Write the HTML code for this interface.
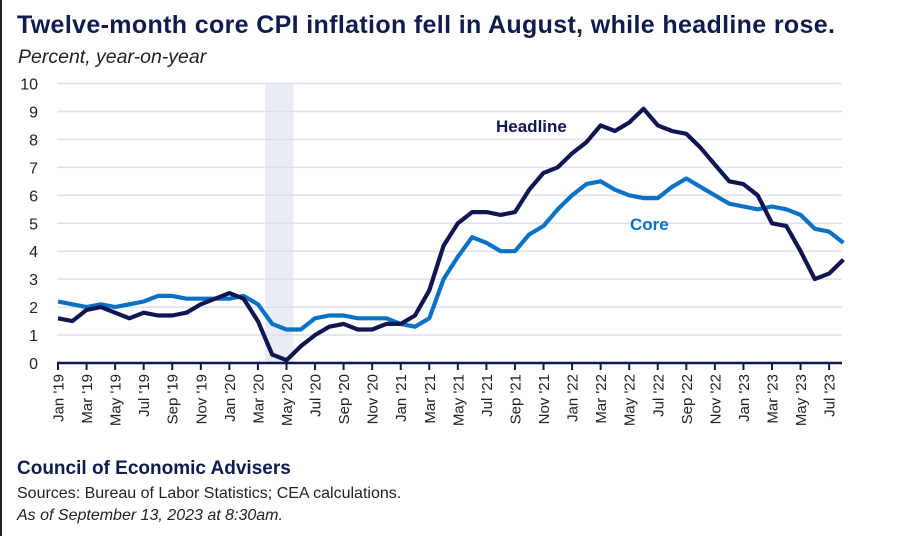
<!DOCTYPE html>
<html><head><meta charset="utf-8">
<style>
body{margin:0;background:#fff;}
#wrap{position:relative;width:909px;height:536px;overflow:hidden;background:#fff;font-family:"Liberation Sans",sans-serif;border-left:2px solid #222;box-sizing:border-box;}
.t{position:absolute;white-space:nowrap;color:#0f1c4d;}
</style></head>
<body>
<div id="wrap">
<div class="t" style="left:15px;top:11px;font-size:25px;font-weight:bold;letter-spacing:0.35px;">Twelve-month core CPI inflation fell in August, while headline rose.</div>
<div class="t" style="left:16px;top:46px;font-size:19.5px;font-style:italic;color:#222;">Percent, year-on-year</div>
<svg id="chart" width="909" height="460" style="position:absolute;left:-2px;top:0"></svg>
<div class="t" style="left:15px;top:458px;font-size:19px;font-weight:bold;color:#0f1c4d;">Council of Economic Advisers</div>
<div class="t" style="left:15px;top:485px;font-size:16px;color:#222;">Sources: Bureau of Labor Statistics; CEA calculations.</div>
<div class="t" style="left:15px;top:507px;font-size:16px;font-style:italic;color:#222;">As of September 13, 2023 at 8:30am.</div>
</div>
<script>
const months = ["Jan","Feb","Mar","Apr","May","Jun","Jul","Aug","Sep","Oct","Nov","Dec"];
const yTicks = [0,1,2,3,4,5,6,7,8,9,10];
const headline = [1.6,1.5,1.9,2.0,1.8,1.6,1.8,1.7,1.7,1.8,2.1,2.3,
 2.5,2.3,1.5,0.3,0.1,0.6,1.0,1.3,1.4,1.2,1.2,1.4,
 1.4,1.7,2.6,4.2,5.0,5.4,5.4,5.3,5.4,6.2,6.8,7.0,
 7.5,7.9,8.5,8.3,8.6,9.1,8.5,8.3,8.2,7.7,7.1,6.5,
 6.4,6.0,5.0,4.9,4.0,3.0,3.2,3.7];
const core = [2.2,2.1,2.0,2.1,2.0,2.1,2.2,2.4,2.4,2.3,2.3,2.3,
 2.3,2.4,2.1,1.4,1.2,1.2,1.6,1.7,1.7,1.6,1.6,1.6,
 1.4,1.3,1.6,3.0,3.8,4.5,4.3,4.0,4.0,4.6,4.9,5.5,
 6.0,6.4,6.5,6.2,6.0,5.9,5.9,6.3,6.6,6.3,6.0,5.7,
 5.6,5.5,5.6,5.5,5.3,4.8,4.7,4.3];
const shadeRange = [14.5, 16.5];
const startYear = 2019;

const NS="http://www.w3.org/2000/svg";
const svg=document.getElementById('chart');
const x0=58, dx=14.28, y0=363, dy=27.95;
const X=i=>x0+i*dx, Y=v=>y0-v*dy;
function el(tag,attrs){const e=document.createElementNS(NS,tag);for(const k in attrs)e.setAttribute(k,attrs[k]);svg.appendChild(e);return e;}

const sh=el('rect',{x:X(shadeRange[0]),y:Y(10),width:X(shadeRange[1])-X(shadeRange[0]),height:Y(0)-Y(10),fill:'#e8ecf4'});



yTicks.forEach(v=>{
  if(v>0){const g=el('line',{x1:57,x2:842,y1:Y(v),y2:Y(v),stroke:'#dde0ec','stroke-width':1.5});
  
  }
  const t=el('text',{x:38,y:Y(v)+6,'text-anchor':'end','font-size':16,fill:'#222','font-family':'Liberation Sans, sans-serif'});
  t.textContent=v;
  
  
});

function path(data,color,name){
  const d=data.map((v,i)=>(i?'L':'M')+X(i).toFixed(1)+','+Y(v).toFixed(1)).join('');
  const p=el('path',{d:d,fill:'none',stroke:color,'stroke-width':4.2,'stroke-linejoin':'round'});
  
  
}
path(core,'#0a72c6','core-line');
path(headline,'#101651','headline-line');

const ax=el('line',{x1:57,x2:842,y1:y0,y2:y0,stroke:'#101651','stroke-width':2.5});


for(let i=0;i<headline.length;i+=2){
  const tk=el('line',{x1:X(i),x2:X(i),y1:y0,y2:y0+7,stroke:'#101651','stroke-width':2});
  
  
  const yr=String(startYear+Math.floor(i/12)).slice(2);
  const lab=months[i%12]+" '"+yr;
  const tx=el('text',{x:0,y:0,'text-anchor':'end','font-size':15,fill:'#222','font-family':'Liberation Sans, sans-serif',transform:`translate(${X(i)+5.5},${y0+11}) rotate(-90)`});
  tx.textContent=lab;
  
  
}
const l1=el('text',{x:496,y:132,'font-size':17,'font-weight':'bold',fill:'#101651','font-family':'Liberation Sans, sans-serif'});
l1.textContent='Headline';


const l2=el('text',{x:630,y:230,'font-size':17,'font-weight':'bold',fill:'#0a72c6','font-family':'Liberation Sans, sans-serif'});
l2.textContent='Core';


</script>
</body></html>
